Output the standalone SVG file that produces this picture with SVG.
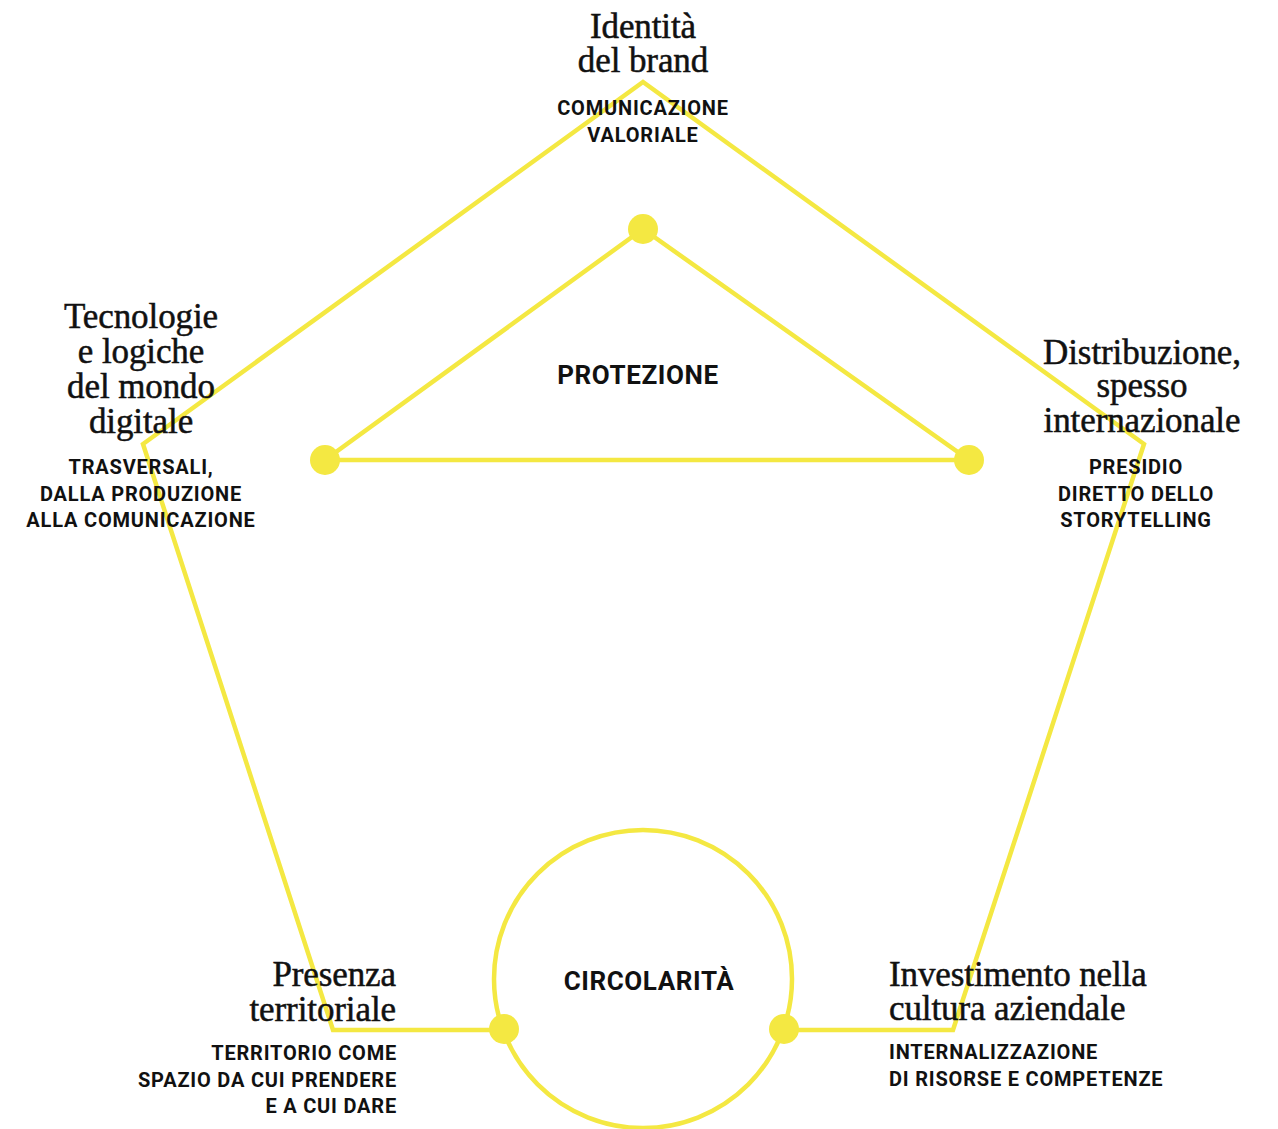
<svg xmlns="http://www.w3.org/2000/svg" width="1278" height="1129" viewBox="0 0 1278 1129">
<style>
.ln{fill:none;stroke:#F4E842;stroke-width:4.5;stroke-linejoin:miter}
.dot{fill:#F4E842}
.h{font-family:"Liberation Serif","Times New Roman",serif;font-size:35px;fill:#111;stroke:#111;stroke-width:0.5;letter-spacing:-0.1px}
.s{font-family:Roboto,"Liberation Sans",Arial,sans-serif;font-weight:700;font-size:20px;fill:#111;letter-spacing:0.8px}
.b{font-family:Roboto,"Liberation Sans",Arial,sans-serif;font-weight:700;font-size:26px;fill:#111;letter-spacing:0.6px}
.c{text-anchor:middle}
.r{text-anchor:end}
</style>
<rect width="1278" height="1129" fill="#fff"/>
<g id="connectors">
<polyline class="ln" points="504,1030 333,1030 143,444 643,82 1144,444 953,1030 784,1030"/>
<polygon class="ln" points="643,229 969,460 325,460"/>
<circle class="ln" cx="643" cy="979" r="149"/>
</g>
<g id="dots">
<circle class="dot" cx="643" cy="229" r="15"/>
<circle class="dot" cx="325" cy="460" r="15"/>
<circle class="dot" cx="969" cy="460" r="15"/>
<circle class="dot" cx="504" cy="1029" r="15"/>
<circle class="dot" cx="784" cy="1029" r="15"/>
</g>
<g id="node-identita">
<text class="h c" x="643" y="38">Identità</text>
<text class="h c" x="643" y="72">del brand</text>
<text class="s c" x="643" y="115">COMUNICAZIONE</text>
<text class="s c" x="643" y="142">VALORIALE</text>
</g>
<g id="node-tecnologie">
<text class="h c" x="141" y="328">Tecnologie</text>
<text class="h c" x="141" y="363">e logiche</text>
<text class="h c" x="141" y="398">del mondo</text>
<text class="h c" x="141" y="433">digitale</text>
<text class="s c" x="141" y="474">TRASVERSALI,</text>
<text class="s c" x="141" y="501">DALLA PRODUZIONE</text>
<text class="s c" x="141" y="527">ALLA COMUNICAZIONE</text>
</g>
<g id="node-distribuzione">
<text class="h c" x="1142" y="364">Distribuzione,</text>
<text class="h c" x="1142" y="397">spesso</text>
<text class="h c" x="1142" y="432">internazionale</text>
<text class="s c" x="1136" y="474">PRESIDIO</text>
<text class="s c" x="1136" y="501">DIRETTO DELLO</text>
<text class="s c" x="1136" y="527">STORYTELLING</text>
</g>
<g id="node-presenza">
<text class="h r" x="396" y="986">Presenza</text>
<text class="h r" x="396" y="1021">territoriale</text>
<text class="s r" x="397" y="1060">TERRITORIO COME</text>
<text class="s r" x="397" y="1087">SPAZIO DA CUI PRENDERE</text>
<text class="s r" x="397" y="1113">E A CUI DARE</text>
</g>
<g id="node-investimento">
<text class="h" x="889" y="986">Investimento nella</text>
<text class="h" x="889" y="1020">cultura aziendale</text>
<text class="s" x="889" y="1059">INTERNALIZZAZIONE</text>
<text class="s" x="889" y="1086">DI RISORSE E COMPETENZE</text>
</g>
<g id="node-protezione">
<text class="b c" x="638" y="384">PROTEZIONE</text>
</g>
<g id="node-circolarita">
<text class="b c" x="649" y="990">CIRCOLARITÀ</text>
</g>
</svg>
